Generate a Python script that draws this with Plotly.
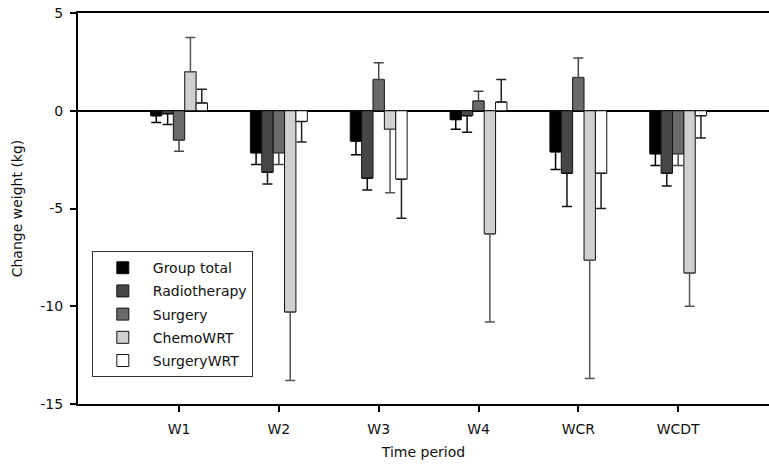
import plotly.graph_objects as go

# Time periods on the x axis
periods = ["W1", "W2", "W3", "W4", "WCR", "WCDT"]

# Mean change in weight (kg) per treatment group
group_total   = [-0.25, -2.15, -1.55, -0.45, -2.10, -2.20]
radiotherapy  = [-0.15, -3.15, -3.45, -0.25, -3.20, -3.20]
surgery       = [-1.50, -2.15,  1.60,  0.50,  1.70, -2.20]
chemowrt      = [ 2.00, -10.30, -0.95, -6.30, -7.65, -8.30]
surgerywrt    = [ 0.40, -0.55, -3.50,  0.45, -3.20, -0.25]

# Standard deviations (drawn away from zero only)
sd_group_total  = [0.35, 0.60, 0.70, 0.50, 0.90, 0.60]
sd_radiotherapy = [0.55, 0.60, 0.60, 0.85, 1.70, 0.65]
sd_surgery      = [0.57, 0.60, 0.85, 0.50, 1.00, 0.60]
sd_chemowrt     = [1.75, 3.50, 3.25, 4.50, 6.05, 1.70]
sd_surgerywrt   = [0.70, 1.05, 2.00, 1.15, 1.80, 1.15]

# Y tick values and their labels (plain hyphen for negatives)
y_ticks = [5, 0, -5, -10, -15]
y_ticktext = ["5", "0", "-5", "-10", "-15"]

series = [
    ("Group total",  group_total,  sd_group_total,  "#000000", "#000000"),
    ("Radiotherapy", radiotherapy, sd_radiotherapy, "#474747", "#111111"),
    ("Surgery",      surgery,      sd_surgery,      "#6a6a6a", "#444444"),
    ("ChemoWRT",     chemowrt,     sd_chemowrt,     "#d0d0d0", "#555555"),
    ("SurgeryWRT",   surgerywrt,   sd_surgerywrt,   "#ffffff", "#222222"),
]

FONT = "DejaVu Sans"
FS = 14
xpos = list(range(len(periods)))

fig = go.Figure()
for i, (name, vals, sds, fill, ecol) in enumerate(series):
    up = [s if v >= 0 else 0 for v, s in zip(vals, sds)]
    down = [s if v < 0 else 0 for v, s in zip(vals, sds)]
    fig.add_trace(go.Bar(
        x=xpos, y=vals, name=name, legendgroup=name,
        marker=dict(color=fill, line=dict(color="#111111", width=1)),
        error_y=dict(type="data", symmetric=False, array=up, arrayminus=down,
                     color=ecol, thickness=1.5, width=5),
    ))

fig.update_layout(
    width=769, height=468,
    margin=dict(l=78, r=0, t=13, b=64),
    paper_bgcolor="white", plot_bgcolor="white",
    barmode="group", bargap=0.43, bargroupgap=0,
    font=dict(family=FONT, size=FS, color="#111111"),
    showlegend=True,
    legend=dict(
        x=0.02, y=0.391, xanchor="left", yanchor="top",
        bgcolor="white", bordercolor="#333333", borderwidth=1,
        font=dict(family=FONT, size=FS, color="#111111"),
        tracegroupgap=2, traceorder="grouped", itemwidth=50,
    ),
    xaxis=dict(
        range=[-1.012, 5.91],
        tickmode="array", tickvals=xpos, ticktext=periods,
        showline=True, linecolor="#000000", linewidth=2, mirror=True,
        ticks="outside", ticklen=6, tickwidth=2, tickcolor="#000000",
        ticklabelstandoff=5,
        showgrid=False, zeroline=False,
        title=dict(text="Time period", standoff=11, font=dict(size=FS)),
        tickfont=dict(size=FS),
    ),
    yaxis=dict(
        range=[-15, 5],
        tickmode="array", tickvals=y_ticks, ticktext=y_ticktext,
        showline=True, linecolor="#000000", linewidth=2,
        ticks="outside", ticklen=6, tickwidth=2, tickcolor="#000000",
        ticklabelstandoff=4,
        showgrid=False,
        zeroline=True, zerolinecolor="#000000", zerolinewidth=2,
        title=dict(text="Change weight (kg)", standoff=14, font=dict(size=FS)),
        tickfont=dict(size=FS),
    ),
)

fig.write_html("out.html")
